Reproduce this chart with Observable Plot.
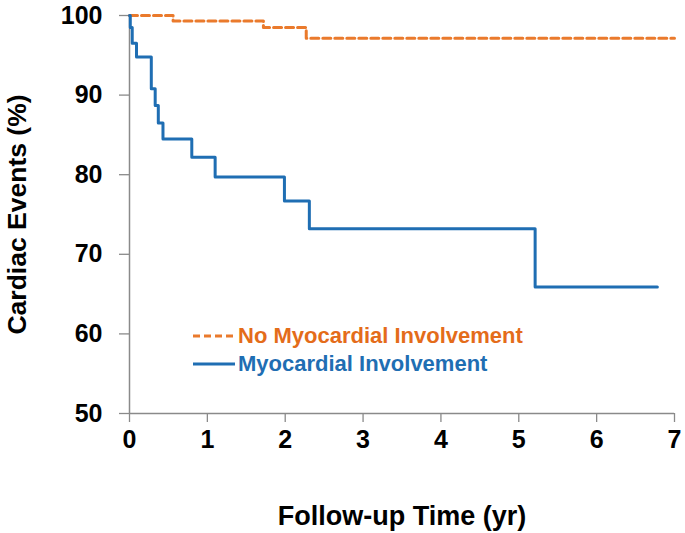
<!DOCTYPE html>
<html>
<head>
<meta charset="utf-8">
<script src="https://cdn.jsdelivr.net/npm/d3@7"></script>
<script src="https://cdn.jsdelivr.net/npm/@observablehq/plot@0.6"></script>
<style>
  html, body { margin: 0; padding: 0; background: #fff; }
  #wrap { position: relative; width: 685px; height: 533px; font-family: "Liberation Sans", Arial, sans-serif; }
  .leg { position: absolute; left: 193px; font-weight: bold; font-size: 22px; white-space: nowrap; display: flex; align-items: center; }
  .leg svg { margin-right: 3px; }
</style>
</head>
<body>
<div id="wrap"></div>
<script>
// Kaplan-Meier style step data (time in years, percent event-free)
const noInvTime = [0, 0.56, 1.72, 2.27, 7.0];
const noInvValue = [100, 99.3, 98.5, 97.15, 97.15];
const invTime = [0, 0.01, 0.035, 0.09, 0.28, 0.33, 0.37, 0.43, 0.80, 1.10, 1.99, 2.31, 5.21, 6.78];
const invValue = [100, 98.5, 96.5, 94.8, 90.8, 88.7, 86.5, 84.5, 82.2, 79.7, 76.7, 73.2, 65.9, 65.9];
const xTicks = [0, 1, 2, 3, 4, 5, 6, 7];
const yTicks = [50, 60, 70, 80, 90, 100];
const seriesNames = ["No Myocardial Involvement", "Myocardial Involvement"];
const xTitle = "Follow-up Time (yr)";
const yTitle = "Cardiac Events (%)";

const orange = "#EA7A2C";
const orangeText = "#E46C1A";
const blue = "#1F6EB3";
const axisGray = "#8a8a8a";

const noInv = noInvTime.map((t, i) => ({t, v: noInvValue[i]}));
const inv = invTime.map((t, i) => ({t, v: invValue[i]}));

const font = "'Liberation Sans', Arial, sans-serif";

const chart = Plot.plot({
  width: 685,
  height: 533,
  marginLeft: 129,
  marginRight: 11,
  marginTop: 15,
  marginBottom: 120,
  style: {fontFamily: font, background: "#fff", color: "#000"},
  x: {domain: [0, 7]},
  y: {domain: [50, 100]},
  marks: [
    Plot.axisX({ticks: xTicks, tickSize: 9, tickPadding: 8, fontSize: 25, fontWeight: "bold", stroke: axisGray, strokeWidth: 1.3, label: null, tickFormat: d => d}),
    Plot.axisY({ticks: yTicks, tickSize: 10, tickPadding: 17, fontSize: 25, fontWeight: "bold", stroke: axisGray, strokeWidth: 1.3, label: null, tickFormat: d => d}),
    Plot.ruleX([0], {stroke: axisGray, strokeWidth: 1.5}),
    Plot.ruleY([50], {stroke: axisGray, strokeWidth: 1.5}),
    Plot.line(noInv, {x: "t", y: "v", curve: "step-after", stroke: orange, strokeWidth: 3, strokeDasharray: "8,4"}),
    Plot.line(inv, {x: "t", y: "v", curve: "step-after", stroke: blue, strokeWidth: 3}),
    Plot.text([yTitle], {frameAnchor: "left", rotate: -90, dx: -112, lineAnchor: "middle", textAnchor: "middle", fontSize: 26.5, fontWeight: "bold", fill: "#000"}),
    Plot.text([xTitle], {frameAnchor: "bottom", dy: 111, lineAnchor: "bottom", textAnchor: "middle", fontSize: 27, fontWeight: "bold", fill: "#000"})
  ]
});

const wrap = document.getElementById("wrap");
wrap.appendChild(chart);

function legendItem(name, color, textColor, dashed, top) {
  const d = document.createElement("div");
  d.className = "leg";
  d.style.top = top + "px";
  d.style.color = textColor;
  d.innerHTML = `<svg width="42" height="6"><line x1="0" x2="42" y1="3" y2="3" stroke="${color}" stroke-width="3" ${dashed ? 'stroke-dasharray="7,4"' : ''}/></svg><span>${name}</span>`;
  wrap.appendChild(d);
}
legendItem(seriesNames[0], orange, orangeText, true, 323);
legendItem(seriesNames[1], blue, blue, false, 351);
</script>
</body>
</html>
